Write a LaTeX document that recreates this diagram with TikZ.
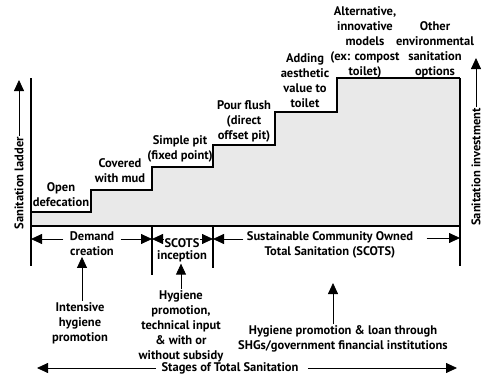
\documentclass[tikz,border=0pt]{standalone}
\usepackage{fontspec}
\setmainfont{PT Sans}
\usetikzlibrary{arrows.meta,positioning}
\begin{document}
\begin{tikzpicture}[x=1pt,y=-1pt,
  lbl/.style={font=\bfseries\fontsize{12.5}{15}\selectfont,align=center,inner sep=1pt},
  uparrow/.style={-{Triangle[length=11pt,width=10pt]},line width=.8pt},
  heavy/.style={line width=2.3pt}]
\useasboundingbox (0,0) rectangle (483,378);
\pgfsetlinewidth{.8pt}
% Escalera (zona sombreada)
\fill[gray!17] (31,226) -- (31,212) -| (91,190) -| (152,167) -| (213,145) -| (275,112) -| (337,78) -- (460,78) -- (460,226) -- cycle;
\draw[heavy] (31,212) -| (91,190) -| (152,167) -| (213,145) -| (275,112) -| (337,78) -- (460,78);
% Ejes y divisiones:
\draw[heavy] (31,78) -- (31,266);
\draw[heavy] (460,78) -- (460,266);
\draw[heavy] (31,226) -- (460,226);
\draw[heavy] (152,226) -- (152,275);
\draw[heavy] (213,226) -- (213,268);
% Peldanos
\node[lbl] (open) at (61,195) {Open\\defecation};
\node[lbl] (mud) at (120,170.5) {Covered\\with mud};
\node[lbl] (pit) at (180,148.5) {Simple pit\\(fixed point)};
\node[lbl] (flush) at (244,121) {Pour flush\\(direct\\offset pit)};
\node[lbl] (aesthetic) at (305,80.5) {Adding\\aesthetic\\value to\\toilet};
\node[lbl] (compost) at (365,42) {Alternative,\\innovative\\models\\(ex: compost\\toilet)};
\node[lbl] (other) at (435,49.5) {Other\\environmental\\sanitation\\options};
% Flechas laterales
\node[lbl,rotate=90] (ladder) at (19,183) {Sanitation ladder};
\coordinate (ladtop) at (19,80);
\draw[uparrow] (ladder.east) -- (ladtop);
\node[lbl,rotate=90] (invest) at (476,167) {Sanitation investment};
\coordinate (invtop) at (476,58);
\draw[uparrow] (invest.east) -- (invtop);
% Etapas
\coordinate (b0) at (31,239);
\coordinate (b1) at (152,239);
\coordinate (b2) at (213,239);
\coordinate (b3) at (460,238);
\node[lbl,inner xsep=6pt] (demand) at (92,243.5) {Demand\\creation};
\draw[uparrow] (demand.west |- b0) -- (b0);
\draw[uparrow] (demand.east |- b0) -- (b1);
\node[lbl,inner sep=0pt] (scots) at (182,243) {SCOTS};
\node[lbl,below=1.5pt of scots] (inception) {inception};
\draw[uparrow] (scots.west |- b1) -- (b1);
\draw[uparrow] (scots.east |- b2) -- (b2);
\node[lbl] (sust) at (330,244.5) {Sustainable Community Owned\\Total Sanitation (SCOTS)};
\draw[uparrow] ([xshift=-2pt]sust.west |- b2) -- (b2);
\draw[uparrow] ([xshift=12pt]sust.east |- b3) -- (b3);
% Apoyos
\node[lbl] (intensive) at (80,323) {Intensive\\hygiene\\promotion};
\draw[uparrow] (intensive.north -| 82,0) -- (demand.south -| 82,0);
\node[lbl] (technical) at (181,326.5) {Hygiene\\promotion,\\technical input\\\& with or\\without subsidy};
\draw[uparrow] (technical.north) -- (inception.south -| technical.north);
\node[lbl] (loan) at (343,339) {Hygiene promotion \& loan through\\SHGs/government financial institutions};
\coordinate (loantop) at (333,283);
\draw[uparrow] (loan.north -| loantop) -- (loantop);
% Eje inferior
\node[lbl] (stages) at (230,368) {Stages of Total Sanitation};
\coordinate (s0) at (37,368);
\coordinate (s1) at (457,368);
\draw[uparrow] ([xshift=-4pt]stages.west) -- (s0);
\draw[uparrow] ([xshift=8pt]stages.east) -- (s1);
\end{tikzpicture}
\end{document}
